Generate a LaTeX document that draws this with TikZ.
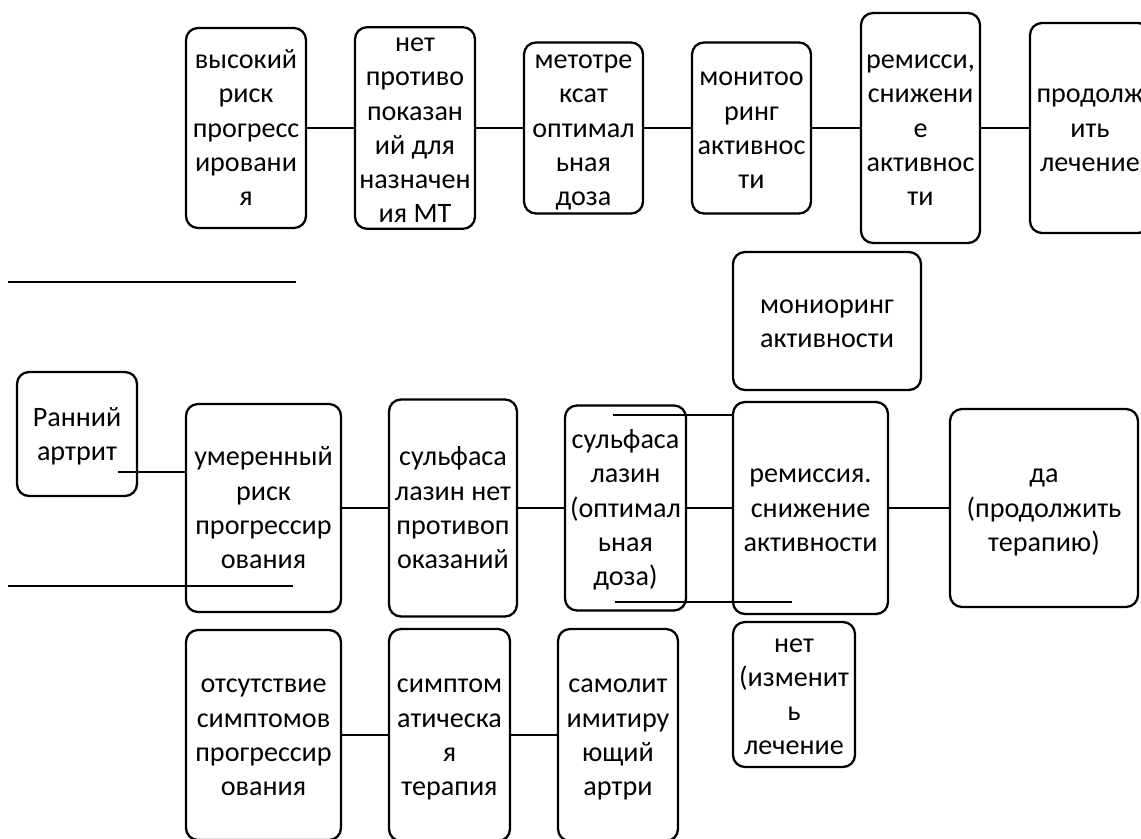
\documentclass[tikz,border=0pt]{standalone}
\usepackage{fontspec}
\setmainfont{Carlito}
\usetikzlibrary{positioning}

\begin{document}
\begin{tikzpicture}[line width=1.3pt,node distance=0.98cm,
    blk/.style 2 args={draw,rounded corners=0.24cm,align=flush center,inner sep=0pt,outer sep=0pt,
        text width=#1cm,minimum width=#1cm,minimum height=#2cm,font=\fontsize{16}{19.4}\selectfont,
        execute at begin node={\rule{0pt}{14pt}},
        execute at end node={\rule[-3.7pt]{0pt}{3.7pt}}}]
    \useasboundingbox (0,0) rectangle (22.82,-16.76);

    \node[blk={2.4}{4.0}] (hi) at (4.92,-2.56) {высокий\\риск\\прогресс\\ировани\\я};
    \node[blk={2.4}{3.92},execute at begin node={},execute at end node={}] (noc) [right=of hi]
        {нет\\противо\\показан\\ий для\\назначен\\ия МТ};
    \node[blk={2.38}{3.42}] (mtx) [right=of noc] {метотре\\ксат\\оптимал\\ьная\\доза};
    \node[blk={2.38}{3.42}] (mon1) [right=of mtx] {монитоо\\ринг\\активнос\\ти};
    \node[blk={2.38}{4.6}] (rem1) [right=1cm of mon1] {ремисси,\\снижени\\е\\активнос\\ти};
    \node[blk={2.4}{4.2}] (cont) [right=1cm of rem1] {продолж\\ить\\лечение};

    \node[blk={2.4}{2.48}] (early) at (1.54,-8.68) {Ранний\\артрит};
    \node[blk={3.1}{4.16}] (umer) at (5.27,-10.16) {умеренный\\риск\\прогрессир\\ования};
    \node[blk={2.56}{4.34}] (sulf1) [right=0.96cm of umer] {сульфаса\\лазин нет\\противоп\\оказаний};
    \node[blk={2.42}{4.1}] (sulf2) [right=0.96cm of sulf1] {сульфаса\\лазин\\(оптимал\\ьная\\доза)};
    \node[blk={3.1}{4.24}] (rem2) [right=0.94cm of sulf2] {ремиссия.\\снижение\\активности};
    \node[blk={3.76}{3.96}] (yes) [right=1.24cm of rem2] {да\\(продолжить\\терапию)};
    \node[blk={3.76}{2.76}] (mon2) at (16.54,-6.42) {мониоринг\\активности};
    \node[blk={2.44}{2.9}] (no) at (15.88,-13.89) {нет\\(изменит\\ь\\лечение};

    \node[blk={3.1}{4.2}] (absent) at (5.27,-14.7) {отсутствие\\симптомов\\прогрессир\\ования};
    \node[blk={2.42}{4.24}] (symp) [right=0.96cm of absent] {симптом\\атическа\\я\\терапия};
    \node[blk={2.4}{4.24}] (selfl) [right=0.96cm of symp] {самолит\\имитиру\\ющий\\артри};

    \path[draw] (hi) edge (noc) (noc) edge (mtx) (mtx) edge (mon1)
    (mon1) edge (rem1) (rem1) edge (cont)
    (umer) edge (sulf1) (sulf1) edge (sulf2) (sulf2) edge (rem2) (rem2) edge (yes)
    (absent) edge (symp) (symp) edge (selfl);

    % loose lines
    \coordinate (ea) at (2.36,-9.44);
    \draw (ea) -- (ea -| umer.west);
    \coordinate (la) at (0.16,-5.64);
    \coordinate (lb) at (5.92,-5.64);
    \draw (la) -- (lb);
    \coordinate (lc) at (0.16,-11.72);
    \coordinate (ld) at (5.86,-11.72);
    \draw (lc) -- (ld);
    \coordinate (sa) at (12.26,-8.3);
    \draw (sa) -- (sa -| rem2.west);
    \coordinate (sb) at (12.3,-12.04);
    \coordinate (sc) at (15.84,-12.04);
    \draw (sb) -- (sc);
\end{tikzpicture}
\end{document}
